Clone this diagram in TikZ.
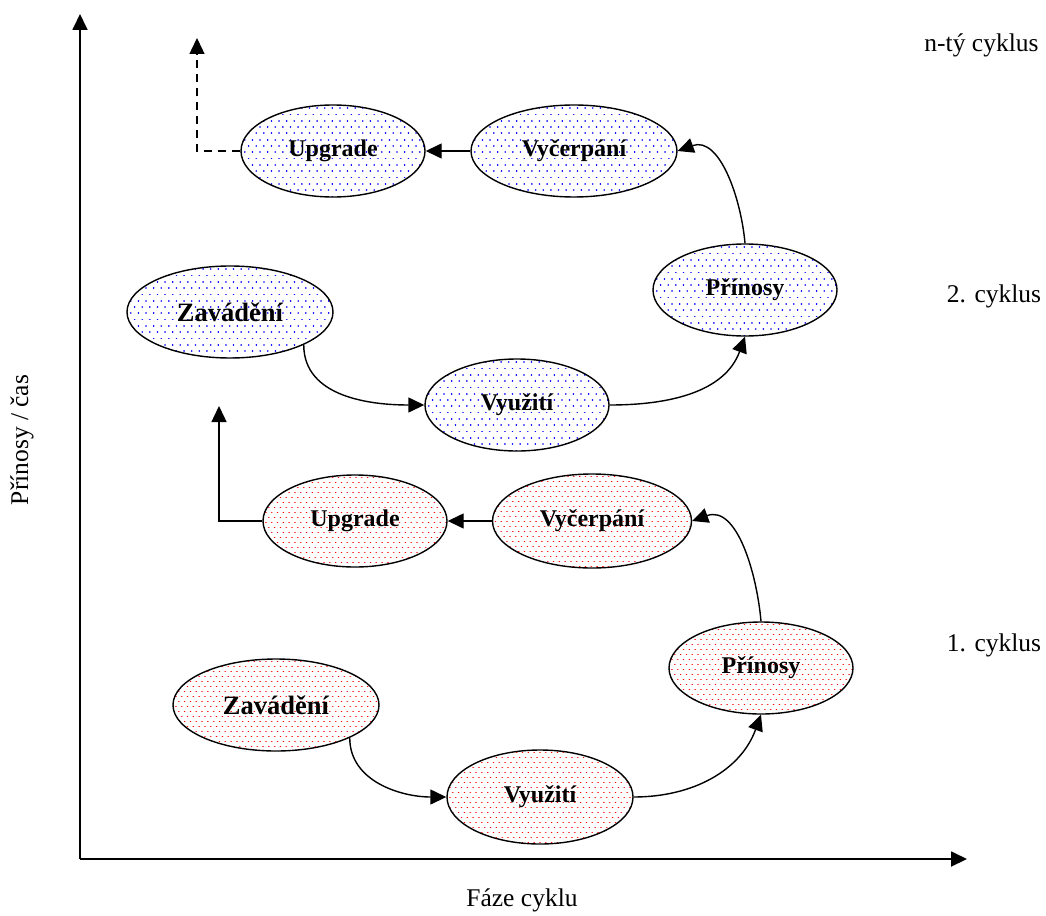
\documentclass[tikz,border=0pt]{standalone}
\usepackage{fontspec}
\setmainfont{Liberation Serif}
\usetikzlibrary{shapes.geometric, arrows.meta}

\tikzset{
  % staggered rows of small round dots, clipped to the node outline
  % #1 colour, #2 dot spacing in a row, #3 row spacing
  dotfill/.style n args={3}{path picture={
    \foreach \yy in {0,...,19}{
      \pgfmathsetmacro\py{(\yy+0.5)*#3}
      \pgfmathsetmacro\ph{mod(\yy,2)*#2/2}
      \draw[#1, line width=1.7pt, line cap=round,
            dash pattern=on 0.01pt off #2pt, dash phase=\ph pt]
        ([yshift=-\py pt]path picture bounding box.north west) -- ++(230pt,0pt);
    }}},
  phase/.style={ellipse, draw, line width=1.4pt, inner sep=0pt,
    font=\bfseries\fontsize{24}{26}\selectfont},
  bigphase/.style={font=\bfseries\fontsize{26.5}{29}\selectfont},
  blueph/.style={phase, dotfill={blue}{7.6}{6.3}},
  redph/.style={phase, dotfill={red}{5.8}{5}},
  flow/.style={line width=1.4pt, -{Triangle[length=16pt,width=15pt]}},
  axis/.style={line width=1.8pt, -{Triangle[length=16pt,width=15pt]}},
  lbl/.style={font=\fontsize{25.5}{28}\selectfont, inner sep=0pt}
}

\begin{document}
\begin{tikzpicture}[x=1pt, y=-1pt]
  \useasboundingbox (0,0) rectangle (1046,915);

  % axes
  \coordinate (o) at (80,859);
  \coordinate (ytop) at (80,14);
  \coordinate (xend) at (967,859);
  \draw[axis] (o) -- (ytop);
  \draw[axis] (o) -- (xend);
  \node[lbl] (xlabel) at (522,900) {Fáze cyklu};
  \node[lbl, rotate=90] (ylabel) at (22,440) {Přínosy / čas};

  % cycle labels
  \node[lbl] (cn) at (981.5,45) {n-tý cyklus};
  \node[lbl] (c2) at (994,296) {2. cyklus};
  \node[lbl] (c1) at (994,645) {1. cyklus};

  % first cycle
  \node[redph, bigphase, minimum width=206pt, minimum height=92pt] (rz) at (276,705) {Zavádění};
  \node[redph, minimum width=186pt, minimum height=94pt] (rv) at (540,797) {Využití};
  \node[redph, minimum width=184pt, minimum height=92pt] (rp) at (761,668) {Přínosy};
  \node[redph, minimum width=199pt, minimum height=94pt] (rc) at (592,521) {Vyčerpání};
  \node[redph, minimum width=184pt, minimum height=92pt] (ru) at (355,521) {Upgrade};
  \coordinate (rup) at (219,406);

  \draw[flow] (rz.-24) to[out=-90, in=180] (rv.west);
  \draw[flow] (rv.east) to[out=0, in=-110] (rp.south);
  \draw[flow] (rp.north) to[out=95, in=20] (rc.east);
  \draw[flow] (rc.west) -- (ru.east);
  \draw[flow] (ru.west) -| (rup);

  % second cycle
  \node[blueph, bigphase, minimum width=206pt, minimum height=92pt] (bz) at (230,312) {Zavádění};
  \node[blueph, minimum width=184pt, minimum height=92pt] (bv) at (517,405) {Využití};
  \node[blueph, minimum width=184pt, minimum height=92pt] (bp) at (745,290) {Přínosy};
  \node[blueph, minimum width=206pt, minimum height=92pt] (bc) at (574,151) {Vyčerpání};
  \node[blueph, minimum width=184pt, minimum height=92pt] (bu) at (333,151) {Upgrade};
  \coordinate (bup) at (197,38);

  \draw[flow] (bz.-24) to[out=-90, in=180] (bv.west);
  \draw[flow] (bv.east) to[out=0, in=-110] (bp.south);
  \draw[flow] (bp.north) to[out=95, in=20] (bc.east);
  \draw[flow] (bc.west) -- (bu.east);
  \draw[flow, dashed, dash pattern=on 8pt off 6pt] (bu.west) -| (bup);
\end{tikzpicture}
\end{document}
